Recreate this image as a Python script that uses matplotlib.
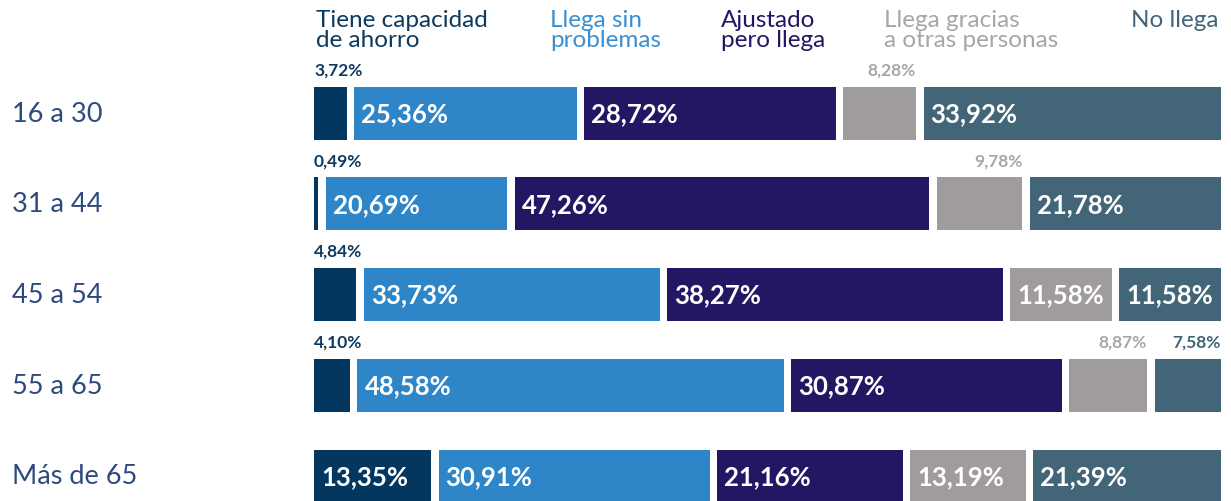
import matplotlib.pyplot as plt
import matplotlib.transforms as mtransforms
import numpy as np

# ---- data ----
categories = ['16 a 30', '31 a 44', '45 a 54', '55 a 65', 'Más de 65']
series_names = ['Tiene capacidad\nde ahorro', 'Llega sin\nproblemas', 'Ajustado\npero llega',
                'Llega gracias\na otras personas', 'No llega']
ahorro = [3.72, 0.49, 4.84, 4.10, 13.35]
sin_problemas = [25.36, 20.69, 33.73, 48.58, 30.91]
ajustado = [28.72, 47.26, 38.27, 30.87, 21.16]
gracias_otros = [8.28, 9.78, 11.58, 8.87, 13.19]
no_llega = [33.92, 21.78, 11.58, 7.58, 21.39]

series = [ahorro, sin_problemas, ajustado, gracias_otros, no_llega]

colors = ['#03375f', '#2e86c9', '#231764', '#a09c9b', '#426577']
text_colors = ['#0d3a5f', '#3a8fd0', '#231764', '#a8a6a5', '#426577']
cat_color = '#2e4a7d'
font = ['Lato', 'DejaVu Sans']

W, H = 1231, 502
fig = plt.figure(figsize=(W / 100, H / 100), dpi=100)
fig.patch.set_facecolor('white')

# axes spans the bar area horizontally, whole height vertically
x0, x1 = 314, 1221
ax = fig.add_axes([x0 / W, 0, (x1 - x0) / W, 1])

gap = 0.855          # white gap between segments (data units)
row_px = 90.75
first_center = 114
bar_h = 53 / row_px
ax.set_xlim(0, 100 + 4 * gap)
ax.set_ylim((H - first_center) / row_px, -first_center / row_px)
ax.axis('off')

vals = np.array(series)          # shape (5 series, 5 rows)
y = np.arange(len(categories))

for j in range(len(categories)):
    left = 0.0
    for i in range(len(series)):
        v = vals[i, j]
        ax.barh(y[j], v, left=left, height=bar_h, color=colors[i], linewidth=0)
        label = f'{v:.2f}%'.replace('.', ',')
        if v >= 10:
            # big enough -> label inside the bar
            ax.text(left + 0.8, y[j], label, color='white', fontsize=18.5,
                    fontweight='bold', va='center', ha='left', family=font)
        else:
            # small segment -> label above it
            ty = y[j] - bar_h / 2 - 17 / row_px
            if i == 0:
                ax.text(left, ty, label, color=text_colors[i], fontsize=12.5,
                        fontweight='bold', va='center', ha='left', family=font)
            else:
                ax.text(left + v, ty, label, color=text_colors[i], fontsize=12.5,
                        fontweight='bold', va='center', ha='right', family=font)
        left += v + gap

# category labels on the left
trans = mtransforms.blended_transform_factory(fig.transFigure, ax.transData)
for j, cat in enumerate(categories):
    ax.text(12 / W, y[j], cat, transform=trans, color=cat_color, fontsize=19.5,
            va='center', ha='left', family=font)

# header legend
legend_x = [316, 550, 721, 884, 1131]
for i, name in enumerate(series_names):
    fig.text(legend_x[i] / W, 1 - 10 / H, name, color=text_colors[i], fontsize=17.5,
             va='top', ha='left', linespacing=0.95, family=font)

fig.savefig('out.png', dpi=100, facecolor='white')
